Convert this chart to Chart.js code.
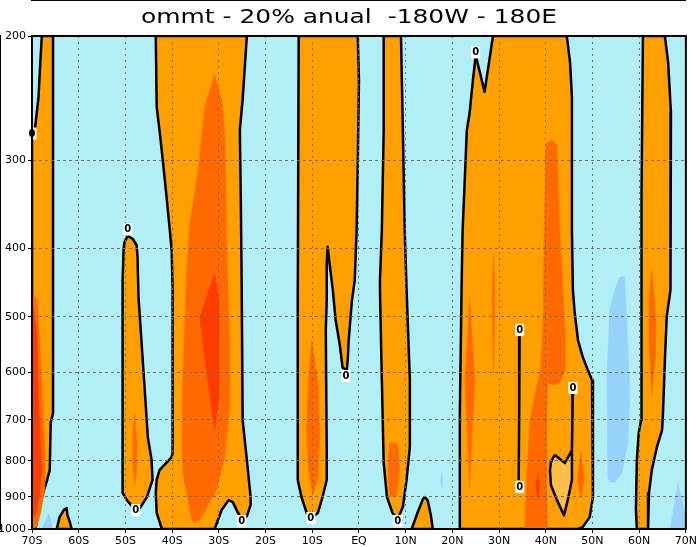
<!DOCTYPE html>
<html>
<head>
<meta charset="utf-8">
<script src="https://cdn.jsdelivr.net/npm/chart.js@4.4.1/dist/chart.umd.min.js"></script>
<style>
  html, body { margin: 0; padding: 0; background: #fff; }
</style>
</head>
<body>
<canvas id="chart" width="699" height="547"></canvas>
<script>
// axes
const latTicks = [-70, -60, -50, -40, -30, -20, -10, 0, 10, 20, 30, 40, 50, 60, 70];
const latLabels = ['70S', '60S', '50S', '40S', '30S', '20S', '10S', 'EQ', '10N', '20N', '30N', '40N', '50N', '60N', '70N'];
const pressureTicks = [200, 300, 400, 500, 600, 700, 800, 900, 1000];
const titleText = 'ommt - 20% anual  -180W - 180E';

// positive areas (inside the zero contour), points are [lat, hPa]
const posA = [[-67.9,200],[-65.5,200],[-65.5,685],[-66.0,707],[-66.2,825],[-66.9,858],[-67.9,901],[-69.2,994],[-70,1000],[-70,276],[-69.4,272],[-68.6,244],[-68.3,223]];
const posB = [[-64.7,1000],[-64.1,962],[-63.2,940],[-62.6,934],[-62.4,956],[-61.9,978],[-61.5,1000]];
const posC = [[-49.5,384],[-48.4,388],[-47.6,396],[-47.4,412],[-47.2,469],[-46.1,601],[-45.2,741],[-44.4,798],[-44.2,852],[-45.4,901],[-46.9,934],[-47.8,940],[-48.4,931],[-49.7,910],[-50.6,889],[-50.6,444],[-50.4,402],[-50.2,392]];
const posD = [[-43.5,200],[-24.0,200],[-24.9,246],[-25.5,272],[-25.3,338],[-25.1,454],[-24.9,701],[-24.0,798],[-23.2,901],[-23.2,925],[-24.0,959],[-25.1,968],[-26.0,946],[-27.0,916],[-27.9,910],[-29.4,940],[-30.9,1000],[-42.2,1000],[-43.3,949],[-43.5,889],[-43.3,852],[-42.7,825],[-40.1,791],[-39.9,780],[-39.9,454],[-40.1,402],[-40.5,377],[-41.2,338],[-42.0,300],[-42.7,272],[-43.3,252]];
const posE = [[-12.9,200],[-0.25,200],[0,231],[-0.25,303],[-0.5,377],[-0.9,444],[-1.5,474],[-2.2,540],[-2.4,576],[-2.6,595],[-3.5,591],[-4.1,548],[-5.0,505],[-5.6,458],[-6.3,420],[-6.7,398],[-6.9,420],[-6.9,474],[-7.1,522],[-6.9,773],[-6.9,852],[-7.8,901],[-8.8,949],[-10.3,965],[-11.2,949],[-12.3,901],[-13.1,852],[-13.1,474]];
const posF = [[5.3,200],[9.0,200],[9.4,272],[9.8,377],[10.2,458],[10.9,615],[10.9,765],[10.2,852],[9.4,931],[8.3,968],[7.2,949],[6.0,901],[5.3,806],[4.9,615],[4.5,458],[4.5,444],[4.9,377],[5.3,272]];
const posG = [[11.3,1000],[12.6,946],[13.7,907],[14.1,901],[14.7,910],[15.4,956],[15.8,1000]];
const posH = [[28.7,200],[44.5,200],[45.2,218],[45.6,244],[45.6,377],[45.8,458],[46.2,494],[46.9,540],[47.9,570],[49.0,595],[49.9,615],[50.1,685],[50.1,901],[49.4,962],[47.9,994],[46.9,1000],[21.6,1000],[21.6,685],[22.0,444],[22.2,377],[23.1,272],[23.7,257],[24.4,231],[25.0,213],[26.9,240]];
const posI = [[60.8,200],[65.5,200],[66.2,218],[66.8,257],[66.8,303],[66.6,458],[65.9,500],[65.5,576],[65.1,685],[64.9,724],[63.8,765],[62.7,825],[62.1,889],[61.9,1000],[59.5,1000],[59.3,937],[59.5,798],[59.9,731],[60.4,701],[60.4,416],[60.6,338]];

// second shade (darker orange)
const midA = [[-70,463],[-68.8,474],[-67.9,615],[-67.3,773],[-67.3,881],[-68.1,946],[-69.0,994],[-70,1000]];
const midC = [[-48.0,685],[-47.6,748],[-47.6,825],[-48.0,866],[-48.4,803],[-48.4,724]];
const midD = [[-30.9,227],[-29.2,249],[-28.7,281],[-28.3,389],[-27.7,540],[-27.7,671],[-28.7,790],[-30.5,881],[-34.1,971],[-35.2,981],[-35.8,971],[-37.7,833],[-37.9,748],[-37.7,601],[-36.9,434],[-36.2,368],[-34.5,313],[-33.0,252]];
const midE = [[-10.1,540],[-8.8,615],[-8.4,724],[-8.8,852],[-9.9,895],[-10.8,825],[-11.2,724],[-10.8,615]];
const midF = [[6.6,753],[8.3,758],[8.7,825],[8.1,895],[6.6,901],[6.2,825]];
const midH1 = [[40.0,284],[41.3,281],[42.4,286],[43.0,377],[43.7,458],[44.1,522],[44.1,595],[43.0,621],[41.5,625],[40.4,621],[40.2,724],[40.2,852],[40.4,1000],[35.5,1000],[35.9,852],[36.6,701],[37.9,635],[38.9,595],[39.4,522],[39.6,402]];
const midH2 = [[23.7,469],[24.8,615],[23.7,872],[22.7,615]];
const midH3 = [[28.8,409],[29.1,468],[28.8,601],[28.5,468]];
const midH4 = [[47.5,773],[48.2,852],[47.5,901],[46.8,852]];
const midI = [[62.7,429],[63.6,505],[63.4,576],[62.7,646],[62.1,540],[62.1,474]];

// third shade (red-orange)
const hiA = [[-70,474],[-69.0,522],[-68.4,701],[-67.9,825],[-68.4,895],[-69.2,956],[-70,956]];
const hiD = [[-30.9,434],[-30.0,474],[-30.0,656],[-30.9,724],[-32.4,615],[-34.1,501]];
const hiH = [[38.3,833],[38.7,870],[38.3,910],[37.9,870]];

// light orange closed contour near 45N
const lowH = [[41.9,785],[44.1,806],[45.6,773],[45.6,852],[44.7,910],[43.9,956],[42.4,910],[41.1,866],[40.9,825],[41.1,804]];

// weak negative patches
const negA = [[-67.8,1000],[-67.0,968],[-66.4,950],[-65.9,975],[-65.6,1000]];
const neg18 = [[17.7,833],[17.9,855],[17.7,872],[17.5,855]];
const neg55 = [[55.9,439],[56.9,439],[57.4,517],[58.0,641],[57.6,755],[56.3,833],[54.8,858],[53.7,858],[53.3,844],[53.1,607],[53.7,489],[54.8,458]];
const neg68 = [[66.6,1000],[67.7,910],[68.3,861],[69.0,900],[70,975],[70,1000]];

// open zero lines
const line35 = [[34.4,533],[34.3,700],[34.2,852]];
const line45 = [[45.8,641],[45.7,700],[45.6,773]];

// zero contour labels
const zeroLabels = [[-70,275],[-49.5,376],[-47.8,940],[-25.1,974],[-10.3,965],[-2.8,607],[8.3,974],[25.0,211],[34.4,522],[34.4,872],[45.8,631]];

const colBg = '#b2eef6';
const colPos = '#ffa000';
const colMid = '#ff6a00';
const colHi = '#ff3c00';
const colLow = '#ffbe46';
const colNeg = '#96d2fa';

function area(points, color, order, edge) {
    return {
        data: points.concat([points[0]]).map(p => ({ x: p[0], y: p[1] })),
        fill: 'shape',
        backgroundColor: color,
        borderColor: edge ? '#000' : color,
        borderWidth: edge ? 2.5 : 0.5,
        borderJoinStyle: 'round',
        pointRadius: 0,
        tension: 0,
        order: order
    };
}

function openLine(points) {
    return {
        data: points.map(p => ({ x: p[0], y: p[1] })),
        fill: false,
        borderColor: '#000',
        borderWidth: 2.5,
        pointRadius: 0,
        tension: 0,
        order: 1
    };
}

const datasets = [];
[negA, neg18, neg55, neg68].forEach(p => datasets.push(area(p, colNeg, 7, false)));
[posA, posB, posC, posD, posE, posF, posG, posH, posI].forEach(p => datasets.push(area(p, colPos, 6, true)));
[midA, midC, midD, midE, midF, midH1, midH2, midH3, midH4, midI].forEach(p => datasets.push(area(p, colMid, 5, false)));
[hiA, hiD, hiH].forEach(p => datasets.push(area(p, colHi, 4, false)));
datasets.push(area(lowH, colLow, 3, true));
datasets.push(openLine(line35));
datasets.push(openLine(line45));

const decor = {
    id: 'decor',
    beforeDatasetsDraw(chart) {
        const { ctx, chartArea: a } = chart;
        ctx.save();
        ctx.fillStyle = colBg;
        ctx.fillRect(a.left, a.top, a.right - a.left, a.bottom - a.top);
        ctx.restore();
    },
    afterDraw(chart) {
        const { ctx, chartArea: a } = chart;
        const xs = chart.scales.x, ys = chart.scales.y;
        ctx.save();

        // zero labels
        ctx.font = 'bold 10px "DejaVu Sans"';
        ctx.textAlign = 'center';
        ctx.textBaseline = 'middle';
        zeroLabels.forEach(([lat, p]) => {
            const x = xs.getPixelForValue(lat);
            const y = ys.getPixelForValue(p);
            ctx.fillStyle = '#fff';
            ctx.fillRect(x - 4.5, y - 6, 9, 12);
            ctx.fillStyle = '#000';
            ctx.fillText('0', x, y + 0.5);
        });

        // frame
        ctx.strokeStyle = '#000';
        ctx.lineWidth = 2;
        ctx.strokeRect(a.left, a.top, a.right - a.left, a.bottom - a.top);

        // title, stretched to the wide plot font
        ctx.font = '20px "DejaVu Sans"';
        ctx.fillStyle = '#000';
        ctx.textAlign = 'left';
        ctx.textBaseline = 'alphabetic';
        const w = ctx.measureText(titleText).width;
        ctx.translate(141, 23);
        ctx.scale(416 / w, 1);
        ctx.fillText(titleText, 0, 0);
        ctx.restore();
    }
};

const tickFont = { family: 'DejaVu Sans', size: 11 };

new Chart(document.getElementById('chart'), {
    type: 'line',
    data: { datasets: datasets },
    options: {
        responsive: false,
        animation: false,
        devicePixelRatio: 1,
        events: [],
        layout: { padding: { top: 36, right: 13, left: 0, bottom: 0 } },
        plugins: {
            legend: { display: false },
            tooltip: { enabled: false },
            title: { display: false }
        },
        scales: {
            x: {
                type: 'linear',
                min: -70,
                max: 70,
                afterBuildTicks: s => { s.ticks = latTicks.map(v => ({ value: v })); },
                afterFit: s => { s.height = 18; },
                ticks: {
                    autoSkip: false,
                    maxRotation: 0,
                    padding: 2,
                    color: '#000',
                    font: tickFont,
                    callback: v => latLabels[latTicks.indexOf(v)]
                },
                grid: { z: 1, color: '#6f6f6f', lineWidth: 1, tickLength: 4, tickColor: '#000' },
                border: { display: true, color: '#000', width: 2, dash: [2, 4] }
            },
            y: {
                type: 'logarithmic',
                reverse: true,
                min: 200,
                max: 1000,
                afterBuildTicks: s => { s.ticks = pressureTicks.map(v => ({ value: v })); },
                afterFit: s => { s.width = 32; },
                ticks: {
                    autoSkip: false,
                    padding: 2,
                    color: '#000',
                    font: tickFont,
                    callback: v => String(v)
                },
                grid: { z: 1, color: '#6f6f6f', lineWidth: 1, tickLength: 4, tickColor: '#000' },
                border: { display: true, color: '#000', width: 2, dash: [3, 3] }
            }
        }
    },
    plugins: [decor]
});
</script>
</body>
</html>
